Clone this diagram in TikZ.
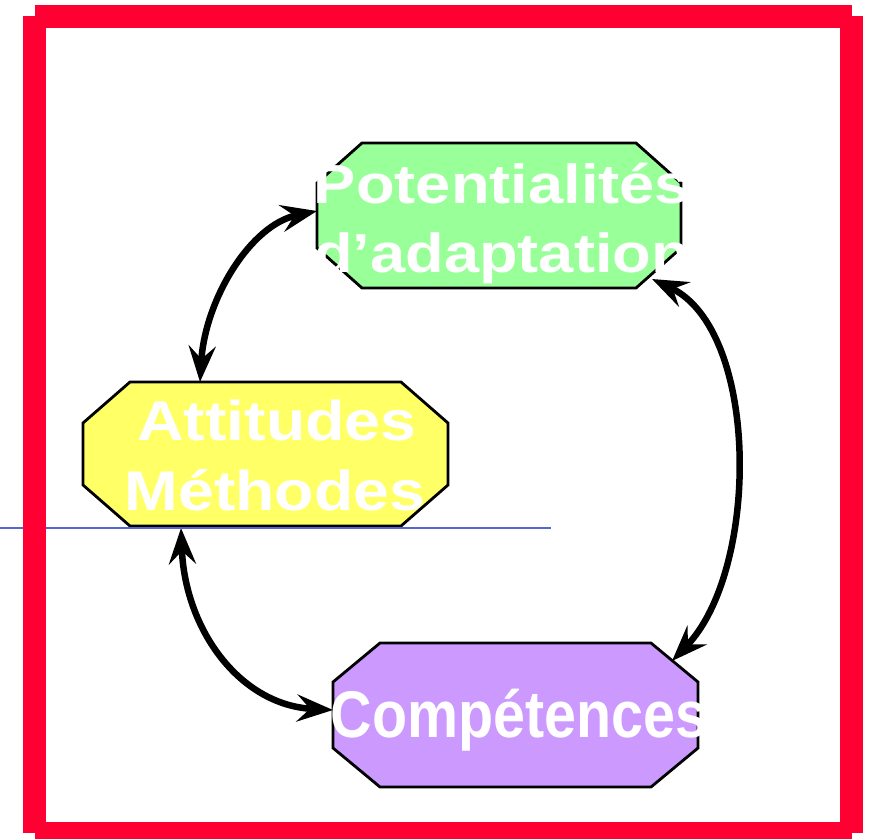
\documentclass[tikz,border=0pt]{standalone}
\usepackage{fontspec}
\setmainfont{Liberation Sans}
\usetikzlibrary{calc,arrows.meta}

\definecolor{framered}{HTML}{FF0033}
\definecolor{guideblue}{HTML}{5566CC}
\definecolor{potgreen}{HTML}{99FF99}
\definecolor{attyellow}{HTML}{FFFF66}
\definecolor{comppurple}{HTML}{CC99FF}

% Octagon drawn on the frame of a named node: #1 node, #2 fill, #3/#4 corner cut
\newcommand\octbox[4]{%
  \filldraw[octline, fill=#2]
    ($(#1.north west)+(#3,0)$) -- ($(#1.north east)+(-#3,0)$) --
    ($(#1.north east)+(0,#4)$) -- ($(#1.south east)+(0,-#4)$) --
    ($(#1.south east)+(-#3,0)$) -- ($(#1.south west)+(#3,0)$) --
    ($(#1.south west)+(0,-#4)$) -- ($(#1.north west)+(0,#4)$) -- cycle;}

\begin{document}
\begin{tikzpicture}[x=1pt,y=-1pt,
  area/.style={inner sep=0pt, outer sep=0pt},
  octline/.style={draw=black, line width=2.8pt, line join=miter},
  lbl/.style={text=white, inner sep=0pt, anchor=base},
  link/.style={line width=6.5pt, black,
    {Stealth[length=36pt,width=27pt,inset=13pt]}-{Stealth[length=36pt,width=27pt,inset=13pt]}},
  guide/.style={guideblue, line width=1.6pt},
  frame/.style={framered, line width=23pt, line cap=butt}]

\useasboundingbox (0,0) rectangle (872,838);

% box areas
\node[area, minimum width=364, minimum height=145] (pot)  at (499,215.5) {};
\node[area, minimum width=365, minimum height=144] (att)  at (265.5,454) {};
\node[area, minimum width=365, minimum height=144] (comp) at (515.5,715) {};

\octbox{pot}{potgreen}{45}{40}
\octbox{att}{attyellow}{47}{41}
\octbox{comp}{comppurple}{47}{39}

% labels
\node[lbl, font=\bfseries\fontsize{55}{55}\selectfont] (pot1) at (502,203) {\scalebox{1.15}[1]{Potentialités}};
\node[lbl, font=\bfseries\fontsize{55}{55}\selectfont] (pot2) at (502,272) {\scalebox{1.15}[1]{d’adaptation}};
\node[lbl, font=\bfseries\fontsize{56}{56}\selectfont] (att1) at (277,440) {\scalebox{1.15}[1]{Attitudes}};
\node[lbl, font=\bfseries\fontsize{56}{56}\selectfont] (att2) at (275,510) {\scalebox{1.15}[1]{Méthodes}};
\node[lbl, font=\bfseries\fontsize{66}{66}\selectfont] (comp1) at (519,737) {\scalebox{0.87}[1]{Compétences}};

% connectors
\draw[link] ($(att.north)+(-65.5,0)$)
  .. controls ($(att.north)+(-60.5,-82)$) and ($(pot.west)+(-67,9.5)$) ..
  ($(pot.west)+(0,-4.5)$);
\draw[link] ($(att.south)+(-84.5,2)$)
  .. controls ($(att.south)+(-80.5,104)$) and ($(comp.west)+(-93,-10)$) ..
  ($(comp.west)+(0,-5)$);
\draw[link] ($(pot.south east)+(-29,-9)$)
  .. controls ($(pot.south east)+(79,42)$) and ($(comp.north east)+(62,-73)$) ..
  ($(comp.north east)+(-26,18)$);

% horizontal guide
\draw[guide] (0,528) -- (551,528);

% outer frame, four separate strokes
\draw[frame] (34.5,16) -- (851.5,16);
\draw[frame] (851.5,16) -- (851.5,833);
\draw[frame] (851.5,833) -- (34.5,833);
\draw[frame] (34.5,833) -- (34.5,16);
\end{tikzpicture}
\end{document}
